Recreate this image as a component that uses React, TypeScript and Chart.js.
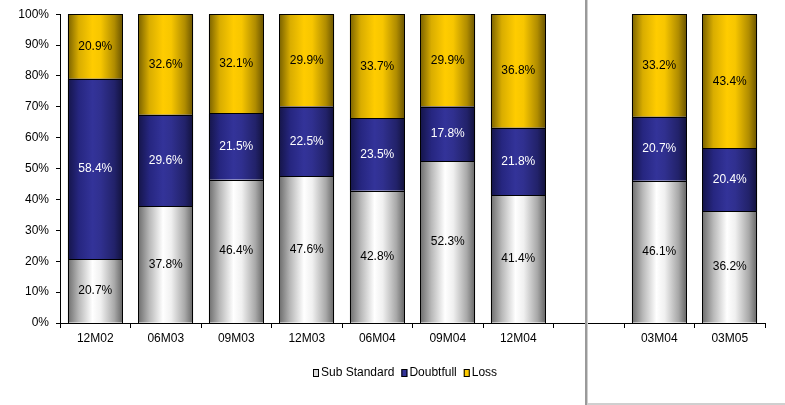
import React, { useEffect, useRef } from "react";
import { Chart, registerables } from "chart.js";

Chart.register(...registerables);

const categories = ["12M02", "06M03", "09M03", "12M03", "06M04", "09M04", "12M04", "", "03M04", "03M05"];
const subStandard = [20.7, 37.8, 46.4, 47.6, 42.8, 52.3, 41.4, null, 46.1, 36.2];
const doubtfull = [58.4, 29.6, 21.5, 22.5, 23.5, 17.8, 21.8, null, 20.7, 20.4];
const loss = [20.9, 32.6, 32.1, 29.9, 33.7, 29.9, 36.8, null, 33.2, 43.4];
const yTicks = [0, 10, 20, 30, 40, 50, 60, 70, 80, 90, 100];

const FONT = "'Liberation Sans', Arial, sans-serif";
const BAR_PCT = 0.775;

type Stops = [number, string][];
const grayStops: Stops = [[0, "#6e6e6e"], [0.2, "#b8b8b8"], [0.45, "#ffffff"], [0.6, "#f0f0f0"], [0.85, "#a8a8a8"], [1, "#666666"]];
const blueStops: Stops = [[0, "#15154a"], [0.2, "#262680"], [0.45, "#333399"], [0.6, "#30308f"], [0.85, "#22226a"], [1, "#12123c"]];
const yellowStops: Stops = [[0, "#7a6200"], [0.2, "#d9ad00"], [0.45, "#ffcc00"], [0.6, "#f7c600"], [0.85, "#b08c00"], [1, "#6a5400"]];

function gradientFill(stops: Stops, solid: string) {
  return (c: any) => {
    const chart = c.chart;
    const xs = chart.scales && chart.scales.x;
    if (!xs || c.type !== "data" || !chart.chartArea) return solid;
    const x = xs.getPixelForValue(c.dataIndex);
    const w = (xs.width / categories.length) * BAR_PCT;
    if (!isFinite(x) || !isFinite(w)) return solid;
    const g = chart.ctx.createLinearGradient(x - w / 2, 0, x + w / 2, 0);
    stops.forEach(([o, col]) => g.addColorStop(o, col));
    return g;
  };
}

const outlinePlugin = {
  id: "outlines",
  afterDatasetsDraw(chart: any) {
    const ctx = chart.ctx;
    ctx.save();
    ctx.strokeStyle = "#000";
    ctx.lineWidth = 1;
    chart.data.datasets.forEach((ds: any, i: number) => {
      const meta = chart.getDatasetMeta(i);
      meta.data.forEach((el: any, j: number) => {
        const v = ds.data[j];
        if (v === null || v === undefined) return;
        const p = el.getProps(["x", "y", "base", "width"], true);
        const l = Math.round(p.x - p.width / 2);
        const r = Math.round(p.x + p.width / 2);
        const t = Math.round(Math.min(p.y, p.base));
        const b = Math.round(Math.max(p.y, p.base));
        ctx.strokeRect(l + 0.5, t + 0.5, r - l - 1, b - t);
      });
    });
    ctx.restore();
  },
};

const labelPlugin = {
  id: "valueLabels",
  afterDatasetsDraw(chart: any) {
    const ctx = chart.ctx;
    ctx.save();
    ctx.font = `12px ${FONT}`;
    ctx.textAlign = "center";
    ctx.textBaseline = "middle";
    chart.data.datasets.forEach((ds: any, i: number) => {
      const meta = chart.getDatasetMeta(i);
      meta.data.forEach((el: any, j: number) => {
        const v = ds.data[j];
        if (v === null || v === undefined) return;
        const p = el.getProps(["x", "y", "base"], true);
        ctx.fillStyle = i === 1 ? "#ffffff" : "#000000";
        ctx.fillText(v.toFixed(1) + "%", p.x, (p.y + p.base) / 2);
      });
    });
    ctx.restore();
  },
};

const legendPlugin = {
  id: "customLegend",
  afterDraw(chart: any) {
    const ctx = chart.ctx;
    ctx.save();
    ctx.font = `12px ${FONT}`;
    ctx.textBaseline = "middle";
    const cy = 373;
    let x = 313;
    const boxFill = ["#dcdcdc", "#333399", "#ffcc00"];
    chart.data.datasets.forEach((ds: any, i: number) => {
      ctx.fillStyle = boxFill[i];
      ctx.fillRect(x, cy - 4, 6, 8);
      ctx.strokeStyle = "#000";
      ctx.lineWidth = 1;
      ctx.strokeRect(x + 0.5, cy - 3.5, 5, 7);
      x += 8;
      ctx.fillStyle = "#000";
      ctx.fillText(ds.label, x, cy);
      x += ctx.measureText(ds.label).width + 7;
    });
    ctx.restore();
  },
};

const framePlugin = {
  id: "frame",
  afterDraw(chart: any) {
    const ctx = chart.ctx;
    ctx.save();
    ctx.fillStyle = "#9a9a9a";
    ctx.fillRect(585, 0, 2, 405);
    ctx.fillStyle = "#cfcfcf";
    ctx.fillRect(587, 0, 1, 405);
    ctx.fillRect(587, 403, 198, 2);
    ctx.restore();
  },
};

export default function App() {
  const ref = useRef<HTMLCanvasElement>(null);
  useEffect(() => {
    if (!ref.current) return;
    const chart = new Chart(ref.current, {
      type: "bar",
      data: {
        labels: categories,
        datasets: [
          { label: "Sub Standard", data: subStandard, backgroundColor: gradientFill(grayStops, "#dcdcdc") },
          { label: "Doubtfull", data: doubtfull, backgroundColor: gradientFill(blueStops, "#333399") },
          { label: "Loss", data: loss, backgroundColor: gradientFill(yellowStops, "#ffcc00") },
        ].map((d) => ({
          ...d,
          borderWidth: 0,
          inflateAmount: 0,
          categoryPercentage: 1,
          barPercentage: BAR_PCT,
        })),
      },
      options: {
        animation: false,
        responsive: true,
        maintainAspectRatio: false,
        layout: { padding: { top: 13, right: 20, left: 0, bottom: 0 } },
        plugins: { legend: { display: false }, tooltip: { enabled: false } },
        scales: {
          x: {
            stacked: true,
            grid: { drawOnChartArea: false, drawTicks: true, tickLength: 5, color: "#000", offset: true },
            border: { display: true, color: "#000" },
            ticks: { color: "#000", font: { family: FONT, size: 12 }, padding: 3, maxRotation: 0, autoSkip: false },
            afterFit: (s: any) => { s.height = 82; },
          },
          y: {
            stacked: true,
            min: 0,
            max: 100,
            afterBuildTicks: (s: any) => { s.ticks = yTicks.map((v) => ({ value: v })); },
            grid: { drawOnChartArea: false, drawTicks: true, tickLength: 4, color: "#000" },
            border: { display: true, color: "#000" },
            ticks: { color: "#000", font: { family: FONT, size: 12 }, padding: 7, callback: (v: any) => v + "%" },
            afterFit: (s: any) => { s.width = 60; },
          },
        },
      },
      plugins: [outlinePlugin, labelPlugin, legendPlugin, framePlugin],
    });
    return () => chart.destroy();
  }, []);
  return (
    <div style={{ position: "fixed", left: 0, top: 0, width: 785, height: 405, background: "#fff" }}>
      <canvas ref={ref} />
    </div>
  );
}
